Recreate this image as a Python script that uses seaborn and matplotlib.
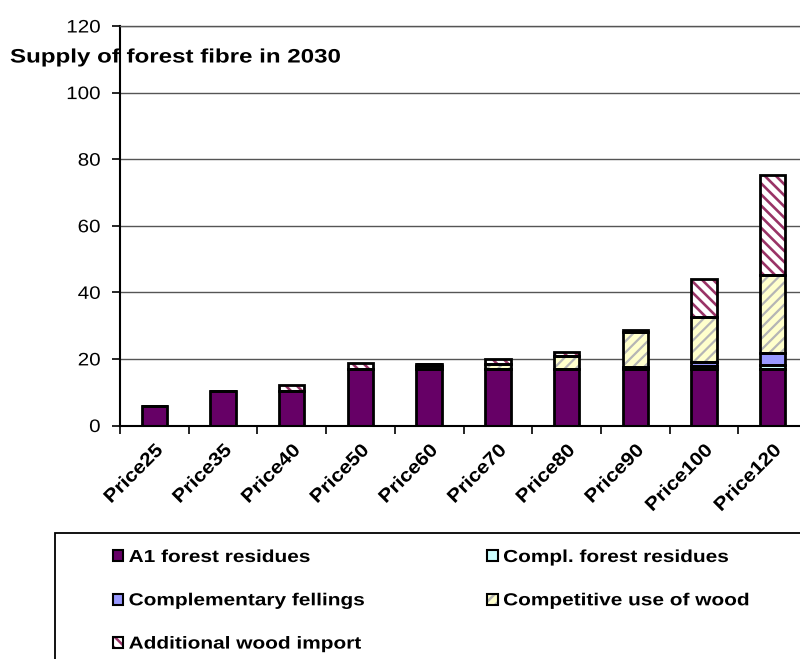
import numpy as np
import matplotlib
matplotlib.use("Agg")
import matplotlib.pyplot as plt
from matplotlib.patches import Patch, Rectangle
from matplotlib.legend_handler import HandlerTuple
from matplotlib.patheffects import AbstractPathEffect
from matplotlib.transforms import Affine2D
import seaborn as sns

# Supply of forest fibre in 2030 by price level
categories = ["Price25", "Price35", "Price40", "Price50", "Price60",
              "Price70", "Price80", "Price90", "Price100", "Price120"]
a1_forest_residues = [6.0, 10.5, 10.5, 17.0, 17.0, 17.0, 17.0, 17.0, 17.0, 17.0]
compl_forest_residues = [0.0, 0.0, 0.0, 0.0, 0.8, 0.0, 0.0, 0.3, 0.8, 1.2]
complementary_fellings = [0.0, 0.0, 0.0, 0.0, 0.8, 0.0, 0.0, 0.3, 1.2, 3.5]
competitive_use = [0.0, 0.0, 0.0, 0.0, 0.0, 1.6, 3.8, 10.4, 13.6, 23.5]
additional_import = [0.0, 0.0, 1.7, 1.7, 0.0, 1.4, 1.2, 0.7, 11.3, 30.0]

series_labels = ["A1 forest residues", "Compl. forest residues",
                 "Complementary fellings", "Competitive use of wood",
                 "Additional wood import"]
yticks = [0, 20, 40, 60, 80, 100, 120]


class StretchX(AbstractPathEffect):
    """Widen glyphs along the text baseline, keeping one end fixed."""

    def __init__(self, sx, anchor="left"):
        super().__init__()
        self.sx = sx
        self.anchor = anchor

    def draw_path(self, renderer, gc, tpath, affine, rgbFace=None):
        ext = tpath.get_extents()
        if self.anchor == "right":
            x0 = ext.x1
        elif self.anchor == "center":
            x0 = 0.5 * (ext.x0 + ext.x1)
        else:
            x0 = 0.0
        pre = Affine2D().translate(-x0, 0).scale(self.sx, 1.0).translate(x0, 0)
        renderer.draw_path(gc, tpath, pre + affine, rgbFace)


sns.set_theme(style="white")
plt.rcParams["font.family"] = ["Liberation Sans", "DejaVu Sans"]
plt.rcParams["text.color"] = "black"
plt.rcParams["axes.labelcolor"] = "black"
plt.rcParams["xtick.color"] = "black"
plt.rcParams["ytick.color"] = "black"
plt.rcParams["hatch.linewidth"] = 1.8

fig = plt.figure(figsize=(8.0, 6.59), dpi=100)
ax = fig.add_axes([0.15, 1 - 425.5 / 659, 687 / 800, 399.5 / 659])

layers = [
    (a1_forest_residues, "#660066", None, None, 0),
    (compl_forest_residues, "#CCFFFF", None, None, 0),
    (complementary_fellings, "#9999FF", None, None, 0),
    (competitive_use, "#FFFFCC", "///", "#B5B5B5", 1.6),
    (additional_import, "#FFFFFF", "\\\\\\", "#993366", 1.9),
]

bar_width = 0.37
edge_lw = 2.0

# fills first
bottoms = []
bottom = np.zeros(len(categories))
for values, face, hatch, hcol, hlw in layers:
    bottoms.append(bottom.copy())
    kws = dict(x=categories, y=values, bottom=bottom.copy(), width=bar_width,
               color=face, saturation=1, errorbar=None, ax=ax, linewidth=0)
    if hatch:
        kws.update(hatch=hatch, edgecolor=hcol)
        with plt.rc_context({"hatch.linewidth": hlw}):
            sns.barplot(**kws)
    else:
        sns.barplot(**kws)
    bottom = bottom + np.asarray(values)

# black outlines on top of every segment
for (values, face, hatch, hcol, hlw), b in zip(layers, bottoms):
    sns.barplot(x=categories, y=values, bottom=b, width=bar_width,
                color="black", fill=False, saturation=1, errorbar=None,
                ax=ax, linewidth=edge_lw, edgecolor="black")

ax.set_xlabel("")
ax.set_ylabel("")
ax.set_xlim(-0.5, len(categories) - 0.5)
ax.set_ylim(0, 120)
ax.set_yticks(yticks)
ax.set_yticklabels([str(v) for v in yticks], fontsize=13)
ax.yaxis.grid(True, color="#555555", linewidth=1.0)
ax.xaxis.grid(False)
ax.set_axisbelow(True)

ax.set_xticks(np.arange(-0.5, len(categories), 1.0))
ax.set_xticklabels([])
ax.set_xticks(np.arange(len(categories)), minor=True)
ax.set_xticklabels(categories, minor=True, rotation=45, ha="right",
                   rotation_mode="anchor", fontweight="bold", fontsize=13.5)
ax.tick_params(axis="x", which="major", bottom=True, length=6, width=1.2,
               direction="out", color="black")
ax.tick_params(axis="x", which="minor", bottom=True, length=0, pad=12)
ax.tick_params(axis="y", left=True, length=6, width=1.2, direction="out",
               color="black", pad=8)

for lbl in ax.get_yticklabels():
    lbl.set_path_effects([StretchX(1.14, "right")])
for lbl in ax.get_xticklabels(minor=True):
    lbl.set_path_effects([StretchX(1.12, "right")])

for side in ["left", "bottom"]:
    ax.spines[side].set_color("black")
    ax.spines[side].set_linewidth(1.5)
ax.spines["top"].set_color("#555555")
ax.spines["top"].set_linewidth(1.0)
ax.spines["right"].set_visible(False)

title = fig.text(10 / 800, 1 - 58 / 659, "Supply of forest fibre in 2030",
                 fontsize=14, fontweight="bold", ha="left", va="center")
title.set_path_effects([StretchX(1.24, "left")])

# legend box
fig.add_artist(Rectangle((55 / 800, -0.1), 1.0, (1 - 533 / 659) + 0.1,
                         transform=fig.transFigure, fill=False,
                         edgecolor="black", linewidth=1.3))

handles = []
for values, face, hatch, hcol, hlw in layers:
    if hatch:
        fill = Patch(facecolor=face, edgecolor=hcol, hatch=hatch, linewidth=0)
    else:
        fill = Patch(facecolor=face, edgecolor="none", linewidth=0)
    outline = Patch(facecolor="none", edgecolor="black", linewidth=1.5)
    handles.append((fill, outline))

order = [0, 2, 4, 1, 3]
leg = fig.legend([handles[i] for i in order], [series_labels[i] for i in order],
                 ncol=2, loc="upper left",
                 bbox_to_anchor=(113 / 800, 1 - 550 / 659),
                 frameon=False, borderpad=0, borderaxespad=0,
                 handlelength=0.6, handleheight=0.6, handletextpad=0.3,
                 columnspacing=9.3, labelspacing=1.63,
                 prop=dict(weight="bold", size=12.5),
                 handler_map={tuple: HandlerTuple(ndivide=1, pad=0)})
for t in leg.get_texts():
    t.set_path_effects([StretchX(1.2, "left")])

fig.savefig("out.png", dpi=100)
